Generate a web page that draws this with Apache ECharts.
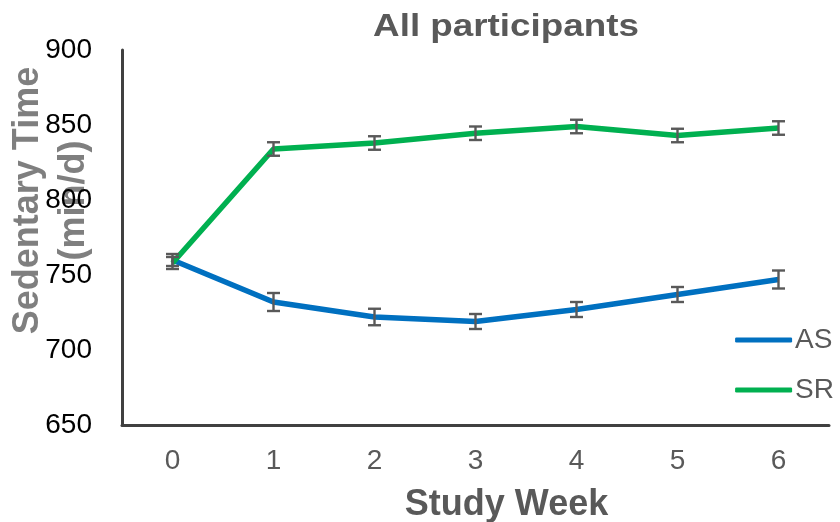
<!DOCTYPE html>
<html>
<head>
<meta charset="utf-8">
<script src="https://cdn.jsdelivr.net/npm/echarts@6/dist/echarts.min.js"></script>
<style>
  html, body { margin: 0; padding: 0; background: #fff; }
  #chart { width: 840px; height: 522px; }
</style>
</head>
<body>
<div id="chart"></div>
<script>
// Weekly sedentary time by group
var weeks = ['0', '1', '2', '3', '4', '5', '6'];
var asMean = [760, 732, 722, 719, 727, 737, 747];
var asErr  = [4, 6, 5.5, 5, 5, 5, 6];
var srMean = [758, 834, 838, 844.5, 849, 843, 848];
var srErr  = [4, 4.5, 4.5, 4.5, 4.5, 4.5, 4.5];
var yTicks = { min: 650, max: 900, interval: 50 };

var FONT = 'Liberation Sans, Arial, sans-serif';
var AS_COLOR = '#0070C0';
var SR_COLOR = '#00B050';
var BAR_COLOR = '#595959';

function errData(mean, err) {
  return mean.map(function (m, i) { return [i, m - err[i], m + err[i]]; });
}

function renderErr(params, api) {
  var x = api.value(0);
  var lo = api.coord([x, api.value(1)]);
  var hi = api.coord([x, api.value(2)]);
  var half = 6.5;
  var style = { stroke: BAR_COLOR, lineWidth: 2.4 };
  return {
    type: 'group',
    children: [
      { type: 'line', shape: { x1: hi[0], y1: hi[1], x2: lo[0], y2: lo[1] }, style: style },
      { type: 'line', shape: { x1: hi[0] - half, y1: hi[1], x2: hi[0] + half, y2: hi[1] }, style: style },
      { type: 'line', shape: { x1: lo[0] - half, y1: lo[1], x2: lo[0] + half, y2: lo[1] }, style: style }
    ]
  };
}

var chart = echarts.init(document.getElementById('chart'), null, { renderer: 'canvas' });
chart.setOption({
  backgroundColor: '#fff',
  animation: false,
  textStyle: { fontFamily: FONT },
  graphic: [{
    type: 'text',
    x: 506,
    y: 27,
    scaleX: 1.15,
    style: {
      text: 'All participants',
      font: 'bold 32px ' + FONT,
      fill: '#595959',
      textAlign: 'center',
      textVerticalAlign: 'middle'
    }
  }],
  grid: { left: 122, right: 11, top: 50, bottom: 97, containLabel: false, outerBoundsMode: 'none' },
  legend: {
    data: ['AS', 'SR'],
    orient: 'vertical',
    right: 1,
    top: 321,
    itemGap: 22,
    itemWidth: 57,
    itemHeight: 5,
    icon: 'roundRect',
    textStyle: { fontFamily: FONT, fontSize: 28, color: '#595959', padding: [0, 0, 0, -2] }
  },
  xAxis: {
    type: 'category',
    data: weeks,
    boundaryGap: true,
    name: 'Study Week',
    nameLocation: 'middle',
    nameGap: 62,
    nameMoveOverlap: false,
    nameTextStyle: { fontFamily: FONT, fontSize: 36, fontWeight: 'bold', color: '#595959', padding: [0, 0, 0, 62] },
    axisLine: { lineStyle: { color: '#404040', width: 3 } },
    axisTick: { show: false },
    axisLabel: { fontFamily: FONT, fontSize: 28, color: '#595959', margin: 22 }
  },
  yAxis: {
    type: 'value',
    min: yTicks.min,
    max: yTicks.max,
    interval: yTicks.interval,
    name: 'Sedentary Time\n(min/d)',
    nameLocation: 'middle',
    nameRotate: 90,
    nameGap: 25,
    nameMoveOverlap: false,
    nameTextStyle: { fontFamily: FONT, fontSize: 36, fontWeight: 'bold', color: '#7f7f7f', lineHeight: 46, padding: [0, 0, 0, 74] },
    splitLine: { show: false },
    axisLine: { show: true, lineStyle: { color: '#404040', width: 3 } },
    axisTick: { show: false },
    axisLabel: { fontFamily: FONT, fontSize: 28, color: '#000', margin: 30 },
    z: 3
  },
  series: [
    {
      name: 'AS', type: 'line', data: asMean, symbol: 'none', z: 2,
      lineStyle: { color: AS_COLOR, width: 5.5 }, itemStyle: { color: AS_COLOR }
    },
    {
      name: 'SR', type: 'line', data: srMean, symbol: 'none', z: 2,
      lineStyle: { color: SR_COLOR, width: 5.5 }, itemStyle: { color: SR_COLOR }
    },
    {
      name: 'AS error', type: 'custom', data: errData(asMean, asErr), renderItem: renderErr, z: 5,
      encode: { x: 0, y: [1, 2] }
    },
    {
      name: 'SR error', type: 'custom', data: errData(srMean, srErr), renderItem: renderErr, z: 5,
      encode: { x: 0, y: [1, 2] }
    }
  ]
});
</script>
</body>
</html>
